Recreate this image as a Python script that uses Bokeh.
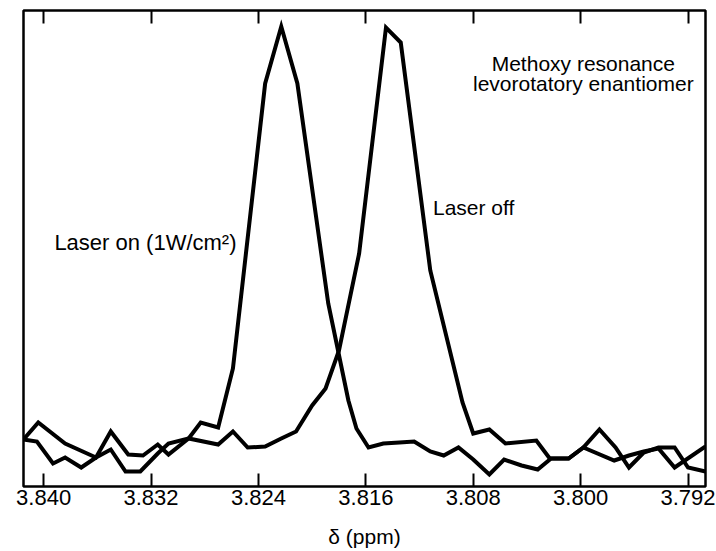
from bokeh.plotting import figure
from bokeh.models import Range1d, FixedTicker, PrintfTickFormatter, LinearAxis, Label, CustomJSTickFormatter
from bokeh.embed import file_html
from bokeh.resources import INLINE

# chemical shift (ppm) and intensity (arbitrary units)
ppm_off = [3.8415, 3.8404, 3.8384, 3.8361, 3.8350, 3.8337, 3.8326, 3.8315, 3.8307, 3.8292,
           3.8270, 3.8259, 3.8248, 3.8235, 3.8223, 3.8212, 3.8200, 3.8190, 3.8180, 3.8165,
           3.8145, 3.8134, 3.8112, 3.8088, 3.8080, 3.8068, 3.8056, 3.8033, 3.8023, 3.8009,
           3.7998, 3.7986, 3.7974, 3.7964, 3.7953, 3.7942, 3.7930, 3.7920, 3.7907]
int_off = [47, 64, 43, 29, 55, 32, 31, 42, 32, 48,
           42, 55, 39, 40, 48, 55, 81, 98, 136, 233,
           459, 444, 216, 84, 53, 57, 43, 46, 28, 28,
           39, 57, 39, 19, 34, 39, 39, 19, 15]

ppm_on = [3.8415, 3.8405, 3.8393, 3.8384, 3.8372, 3.8361, 3.8350, 3.8339, 3.8328, 3.8315,
          3.8307, 3.8292, 3.8283, 3.8270, 3.8259, 3.8235, 3.8223, 3.8211, 3.8188, 3.8173,
          3.8167, 3.8158, 3.8147, 3.8135, 3.8124, 3.8112, 3.8102, 3.8091, 3.8080, 3.8068,
          3.8057, 3.8044, 3.8032, 3.8022, 3.8009, 3.7998, 3.7975, 3.7964, 3.7953, 3.7942,
          3.7930, 3.7907]
int_on = [47, 45, 23, 29, 19, 29, 37, 15, 15, 33,
          43, 48, 64, 59, 118, 403, 460, 403, 183, 86,
          58, 39, 43, 44, 45, 35, 31, 39, 27, 12,
          27, 21, 17, 28, 28, 39, 26, 31, 35, 38,
          19, 40]

tick_values = [3.840, 3.832, 3.824, 3.816, 3.808, 3.800, 3.792]

FONT = "Liberation Sans"

p = figure(width=716, height=551, output_backend="svg", toolbar_location=None,
           x_range=Range1d(3.8415, 3.7907), y_range=Range1d(0, 476),
           y_axis_location=None,
           min_border_left=23, min_border_right=11, min_border_top=10, min_border_bottom=65)

p.grid.visible = False
p.outline_line_color = "black"
p.outline_line_width = 2.5
p.outline_line_alpha = 1.0
p.background_fill_color = "white"
p.border_fill_color = "white"

ax = p.xaxis[0]
ax.ticker = FixedTicker(ticks=tick_values)
ax.formatter = PrintfTickFormatter(format="%.3f")
ax.major_tick_in = 13
ax.major_tick_out = 0
ax.major_tick_line_width = 2
ax.major_tick_line_color = "black"
ax.minor_tick_line_color = None
ax.axis_line_color = None
ax.major_label_standoff = 3
ax.major_label_text_font = FONT
ax.major_label_text_font_size = "22px"
ax.major_label_text_color = "black"
ax.axis_label = "δ (ppm)"
ax.axis_label_text_font = FONT
ax.axis_label_text_font_size = "21px"
ax.axis_label_text_font_style = "normal"
ax.axis_label_text_color = "black"
ax.axis_label_standoff = 17

top = LinearAxis(ticker=FixedTicker(ticks=tick_values),
                 formatter=CustomJSTickFormatter(code="return ''"),
                 major_tick_in=13, major_tick_out=0, major_tick_line_width=2,
                 major_tick_line_color="black", minor_tick_line_color=None,
                 axis_line_color=None, major_label_standoff=0,
                 major_label_text_font_size="1px")
p.add_layout(top, "above")

p.line(ppm_off, int_off, line_color="black", line_width=4, line_join="miter")
p.line(ppm_on, int_on, line_color="black", line_width=4, line_join="miter")

def lab(x, y, t, align="left", size="21px"):
    p.add_layout(Label(x=x, y=y, text=t, text_font=FONT, text_font_size=size,
                       text_color="black", text_align=align, text_baseline="alphabetic"))

lab(3.7998, 423, "Methoxy resonance", "center")
lab(3.7998, 403, "levorotatory enantiomer", "center")
lab(3.8110, 279, "Laser off")
lab(3.8392, 244, "Laser on (1W/cm²)", size="22px")

open("out.html", "w").write(file_html(p, INLINE))
